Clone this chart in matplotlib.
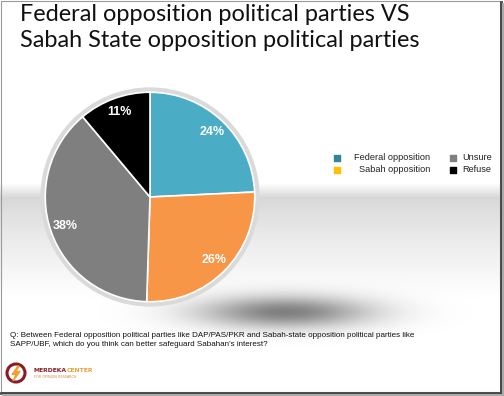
import numpy as np
import matplotlib
matplotlib.use('Agg')
import matplotlib.pyplot as plt
from matplotlib.patches import Circle, Rectangle, Polygon

# data
cats = ['Federal opposition', 'Sabah opposition', 'Unsure', 'Refuse']
vals = [24, 26, 38, 11]
pie_colors = ['#4BACC6', '#F79646', '#7F7F7F', '#000000']
legend_colors = ['#31849B', '#FFC000', '#808080', '#000000']

title = 'Federal opposition political parties VS\nSabah State opposition political parties'
question = ("Q: Between Federal opposition political parties like DAP/PAS/PKR and Sabah-state opposition political parties like\n"
            "SAPP/UBF, which do you think can better safeguard Sabahan\u2019s interest?")

W, H = 504, 396
fig = plt.figure(figsize=(W / 100, H / 100), dpi=100)

# background slide (pixel coordinates, y downwards)
bg = fig.add_axes([0, 0, 1, 1])
bg.set_xlim(0, W)
bg.set_ylim(H, 0)
bg.axis('off')

# grey band across the slide
yy = np.arange(H) + 0.5
shade = np.ones(H)
top, peak, end = 183, 198, 300
m = (yy >= top) & (yy < peak)
shade[m] = 1 - 0.16 * (yy[m] - top) / (peak - top)
m = (yy >= peak) & (yy < end)
shade[m] = 0.84 + 0.16 * ((yy[m] - peak) / (end - peak)) ** 0.8
px, py = np.meshgrid(np.arange(W) + 0.5, yy)
back = np.tile(shade[:, None], (1, W))
# soft shadow under the pie
blob = np.exp(-((px - 285) / 85) ** 2 - ((py - 312) / 16) ** 2)
back = back * (1 - 0.5 * blob)
bg.imshow(back, cmap='gray', vmin=0, vmax=1, extent=[0, W, H, 0], aspect='auto', zorder=0)

# frame with shadow
bg.add_patch(Rectangle((0.5, 0.5), 499, 391, fill=False, ec='#9a9a9a', lw=0.8, zorder=5))
bg.plot([500.5, 500.5], [2, 392.5], color='#444444', lw=2.0, zorder=5)
bg.plot([1, 500.5], [392.5, 392.5], color='#444444', lw=2.0, zorder=5)
bg.plot([502.5, 502.5], [4, 395], color='#aaaaaa', lw=1.5, zorder=5)
bg.plot([3, 503], [394.5, 394.5], color='#aaaaaa', lw=1.5, zorder=5)

# title
bg.text(20, 4, title, fontsize=16.9, family='Lato', color='#111111',
        va='top', ha='left', linespacing=1.27, zorder=6)

# legend drawn as two columns
leg_y = [158, 170]
for i, (c, col) in enumerate(zip(cats, legend_colors)):
    ycen = leg_y[i % 2]
    if i < 2:
        bg.scatter([337], [ycen], marker='s', s=14, color=col, zorder=6)
        bg.text(430, ycen, c, fontsize=6.6, family='Liberation Sans', color='#222222',
                ha='right', va='center', zorder=6)
    else:
        bg.scatter([453], [ycen], marker='s', s=14, color=col, zorder=6)
        bg.text(462, ycen, c, fontsize=6.6, family='Liberation Sans', color='#222222',
                ha='left', va='center', zorder=6)

# question
bg.text(10, 332, question, fontsize=5.75, family='Liberation Sans', color='#111111',
        va='top', ha='left', linespacing=1.3, zorder=6)

# logo
bg.add_patch(Circle((16, 373), 9, fill=False, ec='#8B1C24', lw=2.2, zorder=6))
bg.add_patch(Polygon([(18, 366), (12, 374.5), (16, 374.5), (13, 381), (20, 371.5), (16, 371.5), (19, 366)],
                     closed=True, color='#F0A030', zorder=6))
bg.text(33.5, 371, 'MERDEKA', fontsize=4.4, fontweight='bold', family='DejaVu Sans',
        color='#8B1C24', va='center', ha='left', zorder=6)
bg.text(66.5, 371, 'CENTER', fontsize=4.4, fontweight='bold', family='DejaVu Sans',
        color='#E8A33A', va='center', ha='left', zorder=6)
bg.text(34, 377.5, 'FOR OPINION RESEARCH', fontsize=2.4, family='DejaVu Sans',
        color='#C98A3A', va='center', ha='left', zorder=6)

# pie
cx, cy, half = 150, 197, 110
ax = fig.add_axes([(cx - half) / W, (H - cy - half) / H, 2 * half / W, 2 * half / H])
ax.set_aspect('equal')
ax.axis('off')
ax.add_patch(Circle((0, 0), 1.04, color='#DADADA', zorder=0))
wedges, _ = ax.pie(vals, colors=pie_colors, startangle=90, counterclock=False, radius=1.0,
                   wedgeprops=dict(edgecolor='white', linewidth=1.2))
total = sum(vals)
start = 90.0
for v, w in zip(vals, wedges):
    mid = np.deg2rad(start - 360 * v / total / 2)
    start -= 360 * v / total
    ax.text(0.86 * np.cos(mid), 0.86 * np.sin(mid), f'{v}%', color='white',
            fontsize=9, fontweight='bold', family='Liberation Sans', ha='center', va='center')
ax.set_xlim(-1.05, 1.05)
ax.set_ylim(-1.05, 1.05)

fig.savefig('out.png', dpi=100)
